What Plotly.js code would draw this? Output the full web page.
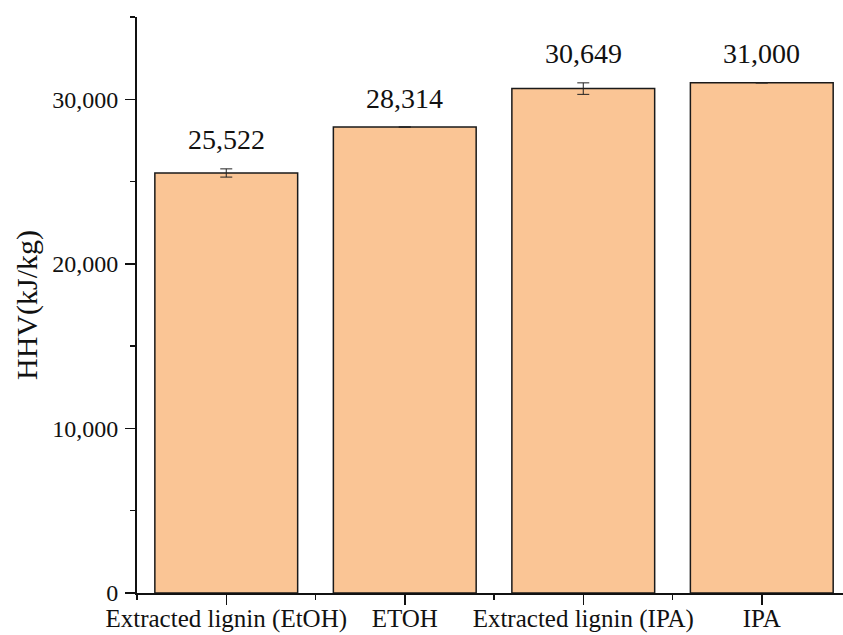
<!DOCTYPE html>
<html>
<head>
<meta charset="utf-8">
<script src="https://cdn.plot.ly/plotly-3.0.1.min.js"></script>
<style>html,body{margin:0;padding:0;background:#fff;}#chart{width:843px;height:635px;}</style>
</head>
<body>
<div id="chart"></div>
<script>
// Data
const categories = ["Extracted lignin (EtOH)", "ETOH", "Extracted lignin (IPA)", "IPA"];
const hhvValues = [25522, 28314, 30649, 31000];
const hhvErrors = [250, null, 350, null];
const valueLabels = ["25,522", "28,314", "30,649", "31,000"];
const yTickVals = [0, 10000, 20000, 30000];
const yTickText = ["0", "10,000", "20,000", "30,000"];

const FONT = "Liberation Serif, Times New Roman, serif";
const xIdx = categories.map((c, i) => i);

const trace = {
  type: "bar",
  x: xIdx,
  y: hhvValues,
  width: 0.8,
  marker: { color: "rgb(250,197,149)", line: { color: "#1a1a1a", width: 1.5 } },
  error_y: { type: "data", array: hhvErrors, visible: true, color: "#222", thickness: 1, width: 6 },
  hoverinfo: "none"
};

const annotations = hhvValues.map((v, i) => ({
  x: xIdx[i],
  y: v + (hhvErrors[i] || 0),
  xref: "x", yref: "y",
  text: valueLabels[i],
  showarrow: false,
  yanchor: "middle",
  yshift: 29,
  font: { family: FONT, size: 28, color: "#111" }
}));

const layout = {
  width: 843, height: 635,
  margin: { l: 137, r: 0, t: 17, b: 42, pad: 0 },
  paper_bgcolor: "#fff", plot_bgcolor: "#fff",
  showlegend: false,
  font: { family: FONT, color: "#111" },
  xaxis: {
    type: "linear",
    range: [-0.5, 3.455],
    tickmode: "array",
    tickvals: xIdx,
    ticktext: categories,
    ticks: "outside", ticklen: 10, tickwidth: 1.5, tickcolor: "#111",
    ticklabelstandoff: -8,
    minor: { tickmode: "linear", tick0: 0.5, dtick: 1, ticks: "outside", ticklen: 5, tickwidth: 1.5, tickcolor: "#111", showgrid: false },
    showline: true, linecolor: "#111", linewidth: 2,
    showgrid: false, zeroline: false,
    tickfont: { family: FONT, size: 25, color: "#111" },
    automargin: false,
    fixedrange: true
  },
  yaxis: {
    range: [0, 35000],
    tickmode: "array",
    tickvals: yTickVals,
    ticktext: yTickText,
    ticks: "outside", ticklen: 10, tickwidth: 1.5, tickcolor: "#111",
    ticklabelstandoff: 2,
    minor: { tickmode: "linear", tick0: 0, dtick: 5000, ticks: "outside", ticklen: 5, tickwidth: 1.5, tickcolor: "#111", showgrid: false },
    showline: true, linecolor: "#111", linewidth: 2,
    showgrid: false, zeroline: false,
    tickfont: { family: FONT, size: 24, color: "#111" },
    title: { text: "HHV(kJ/kg)", font: { family: FONT, size: 30, color: "#111" }, standoff: 6 },
    automargin: false,
    fixedrange: true
  },
  annotations: annotations
};

Plotly.newPlot("chart", [trace], layout, { displayModeBar: false, staticPlot: true });
</script>
</body>
</html>
